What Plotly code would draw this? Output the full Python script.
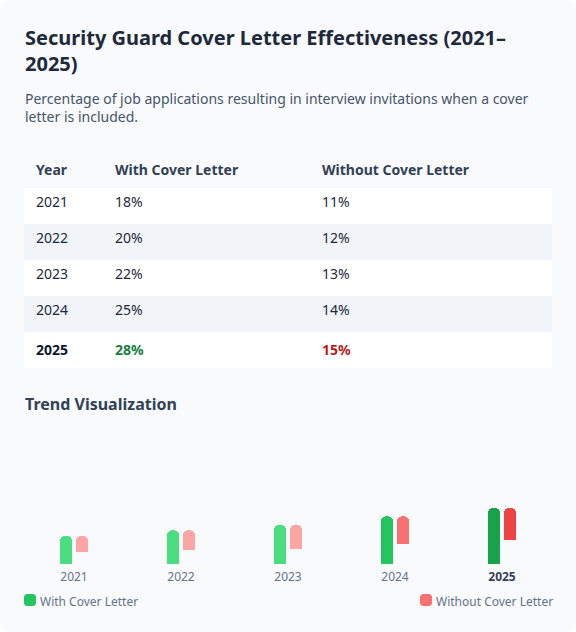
"""
Security guard cover letter effectiveness card: table + small trend bars
"""

import plotly.graph_objects as go


# data read from the card
years = ["2021", "2022", "2023", "2024", "2025"]
with_letter = [18, 20, 22, 25, 28]
without_letter = [11, 12, 13, 14, 15]

W, H = 576, 632
FONT = "Noto Sans"

# shades get stronger for the most recent years
green_shades = ["#4ade80", "#4ade80", "#4ade80", "#22c55e", "#16a34a"]
red_shades = ["#fca5a5", "#fca5a5", "#fca5a5", "#f87171", "#ef4444"]

# trend bars: green grows from a floor, red hangs from the top of the green one
GREEN_FLOOR = 8
RED_FLOOR = 7
RED_GAIN = 4 / 2.8
SLOT = 107  # px per year slot
BAR_W = 12 / SLOT


def fx(p):
    return p / W


def fy(p):
    return 1 - p / H


def rounded_rect(x0, y0, x1, y1, r):
    # pixel path (y grows upward in pixel sizemode)
    return (f"M{x0 + r},{y0} H{x1 - r} Q{x1},{y0} {x1},{y0 + r} V{y1 - r} "
            f"Q{x1},{y1} {x1 - r},{y1} H{x0 + r} Q{x0},{y1} {x0},{y1 - r} "
            f"V{y0 + r} Q{x0},{y0} {x0 + r},{y0} Z")


last = len(years) - 1
red_len = [(v - RED_FLOOR) * RED_GAIN for v in without_letter]
red_base = [w - l for w, l in zip(with_letter, red_len)]

fig = go.Figure()

# table
row_fill = ["#ffffff" if i % 2 == 0 else "#f1f5f9" for i in range(len(years))]
year_cells = [f"<b>{y}</b>" if i == last else y for i, y in enumerate(years)]
with_cells = [f"<b>{v}%</b>" if i == last else f"{v}%" for i, v in enumerate(with_letter)]
without_cells = [f"<b>{v}%</b>" if i == last else f"{v}%" for i, v in enumerate(without_letter)]
text_col = ["#1e293b"] * last + ["#0f172a"]
green_col = ["#1e293b"] * last + ["#15803d"]
red_col = ["#1e293b"] * last + ["#b91c1c"]

fig.add_trace(go.Table(
    domain=dict(x=[fx(24), fx(552)], y=[fy(372), fy(152)]),
    columnwidth=[4, 79, 207, 238],
    header=dict(
        values=["", "<b>Year</b>", "<b>With Cover Letter</b>", "<b>Without Cover Letter</b>"],
        fill_color="#f8fafc",
        line=dict(color="#f8fafc", width=0),
        align="left",
        height=36,
        font=dict(family=FONT, size=14, color="#334155"),
    ),
    cells=dict(
        values=[[""] * len(years), year_cells, with_cells, without_cells],
        fill_color=[row_fill] * 4,
        line=dict(color=[row_fill] * 4, width=0),
        align="left",
        height=36,
        font=dict(family=FONT, size=14, color=[text_col, text_col, green_col, red_col]),
    ),
))

# trend bars: green on x/y (clipped at the floor), red stacked on a spacer on x2/y2
fig.add_trace(go.Bar(
    x=years, y=with_letter, width=BAR_W, offset=-14 / SLOT,
    name="With Cover Letter",
    marker=dict(color=green_shades, cornerradius=5, line=dict(width=0)),
    hovertext=[f"{v}%" for v in with_letter], hoverinfo="x+text",
))
fig.add_trace(go.Bar(
    x=years, y=red_base, width=BAR_W, offset=2 / SLOT,
    xaxis="x2", yaxis="y2", showlegend=False, hoverinfo="skip",
    marker=dict(color="rgba(0,0,0,0)", line=dict(width=0)),
))
fig.add_trace(go.Bar(
    x=years, y=red_len, width=BAR_W, offset=2 / SLOT,
    xaxis="x2", yaxis="y2",
    name="Without Cover Letter",
    marker=dict(color=red_shades, cornerradius=5, line=dict(width=0)),
    hovertext=[f"{v}%" for v in without_letter], hoverinfo="x+text",
))

tick_text = [f"<b><span style='color:#334155'>{y}</span></b>" if i == last else y
             for i, y in enumerate(years)]

x_dom = [fx(20.5), fx(555.5)]
y_dom = [fy(564), fy(424)]
y_rng = [GREEN_FLOOR, GREEN_FLOOR + 140 / 2.8]

fig.update_layout(
    width=W, height=H,
    margin=dict(l=0, r=0, t=0, b=0),
    paper_bgcolor="#ffffff",
    plot_bgcolor="rgba(0,0,0,0)",
    showlegend=False,
    barmode="stack",
    font=dict(family=FONT),
    xaxis=dict(
        type="category", domain=x_dom, range=[-0.5, 4.5],
        tickvals=years, ticktext=tick_text,
        showgrid=False, showline=False, zeroline=False, ticks="",
        ticklabelstandoff=4,
        tickfont=dict(family=FONT, size=12, color="#64748b"),
        fixedrange=True,
    ),
    yaxis=dict(domain=y_dom, range=y_rng, visible=False, fixedrange=True),
    xaxis2=dict(type="category", domain=x_dom, range=[-0.5, 4.5], overlaying="x",
                visible=False, fixedrange=True),
    yaxis2=dict(domain=y_dom, range=y_rng, overlaying="y", anchor="x2",
                visible=False, fixedrange=True),
)

# card background
fig.add_shape(
    type="path", xref="paper", yref="paper", xsizemode="pixel", ysizemode="pixel",
    xanchor=0, yanchor=0, path=rounded_rect(0, 0, W, H, 12),
    fillcolor="#f8fafc", line=dict(width=0), layer="below",
)

# legend swatches
for x0, col in [(24, "#22c55e"), (420, "#f87171")]:
    fig.add_shape(
        type="path", xref="paper", yref="paper", xsizemode="pixel", ysizemode="pixel",
        xanchor=0, yanchor=0, path=rounded_rect(x0, H - 606, x0 + 12, H - 594, 3.5),
        fillcolor=col, line=dict(width=0),
    )

notes = [
    dict(x=fx(22.5), y=fy(22.5), size=20, color="#1e293b",
         text="<b>Security Guard Cover Letter Effectiveness (2021–<br>2025)</b>"),
    dict(x=fx(22.5), y=fy(87.5), size=14, color="#475569",
         text="Percentage of job applications resulting in interview invitations when a cover<br>"
              "letter is included."),
    dict(x=fx(23), y=fy(391), size=16, color="#334155", text="<b>Trend Visualization</b>"),
    dict(x=fx(38), y=fy(590.5), size=12, color="#64748b", text="With Cover Letter"),
    dict(x=fx(434), y=fy(590.5), size=12, color="#64748b", text="Without Cover Letter"),
]
for n in notes:
    fig.add_annotation(
        x=n["x"], y=n["y"], xref="paper", yref="paper", xanchor="left", yanchor="top",
        text=n["text"], showarrow=False, align="left",
        font=dict(family=FONT, size=n["size"], color=n["color"]),
    )

# page body margin would shift the card off the window
fig.write_html("out.html", config={"displayModeBar": False},
               post_script="document.body.style.margin='0';")
